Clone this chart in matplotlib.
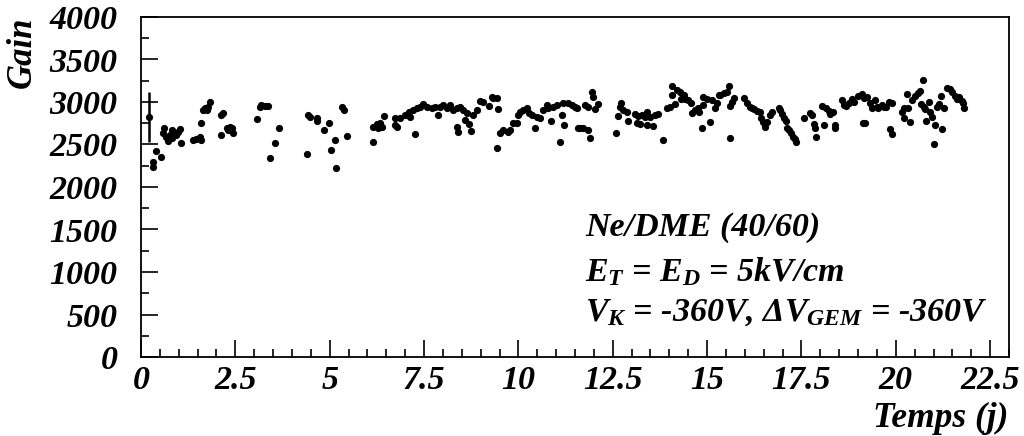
import matplotlib
matplotlib.use("Agg")
import matplotlib.pyplot as plt
from matplotlib.ticker import MultipleLocator
import numpy as np

# Time (days) and gain values
days = [0.22, 0.32, 0.32, 0.41, 0.52, 0.61, 0.59, 0.66, 0.72, 0.81, 0.83, 0.94, 0.99, 1.03, 1.07, 0.76,
        1.38, 1.47, 1.56, 1.59, 1.59, 1.65, 1.69, 1.78, 1.82, 1.74, 2.13, 2.18, 2.13, 2.28, 2.35, 2.42,
        2.44, 2.31, 3.08, 3.15, 3.19, 3.28, 3.37, 3.43, 3.55, 3.66,
        4.42, 4.48, 4.66, 4.66, 4.39, 4.86, 4.97, 5.04, 5.13, 5.17, 5.32, 5.37, 5.45,
        6.16, 6.16, 6.25, 6.34, 6.38, 6.45, 6.29, 6.73, 6.78, 6.73, 6.87, 7.00, 7.09, 7.13, 7.22,
        7.26, 7.31, 7.40, 7.48, 7.57,
        7.70, 7.79, 7.88, 7.92, 8.01, 8.10, 8.19, 8.28, 8.37, 8.45, 8.54, 8.59, 8.63, 8.37, 8.39,
        8.68, 8.74, 8.81, 8.90, 8.98, 9.06, 9.21, 9.29, 9.34, 9.43, 9.45,
        9.44, 9.50, 9.60, 9.73, 9.78, 9.87, 9.96,
        10.00, 10.04, 10.13, 10.22, 10.27, 10.35, 10.44, 10.49, 10.57, 10.66, 10.75, 10.79, 10.86,
        10.93, 11.02, 11.09, 11.15, 11.19, 11.22, 11.32, 11.41,
        11.50, 11.54, 11.59, 11.63, 11.72, 11.85, 11.90, 11.76, 11.84, 11.94, 11.99, 12.03, 12.10,
        12.58, 12.65, 12.69, 12.72, 12.78, 12.87, 12.91, 13.09, 13.13, 13.18, 13.22, 13.27, 13.35,
        13.40, 13.40, 13.49, 13.58, 13.62, 13.69, 13.82,
        13.95, 14.02, 14.08, 14.06, 14.15, 14.19, 14.28, 14.31, 14.40, 14.41, 14.50, 14.57, 14.59,
        14.68, 14.75, 14.78, 14.86, 14.90, 14.90, 15.01, 15.08, 15.12, 15.21, 15.25, 15.31,
        15.35, 15.44, 15.53, 15.57, 15.61, 15.66, 15.72, 15.61,
        15.99, 16.06, 16.13, 16.19, 16.25, 16.32, 16.39, 16.43, 16.48, 16.54, 16.60, 16.67, 16.72,
        16.90, 16.92, 16.98, 17.05, 17.10, 17.12, 17.16, 17.22, 17.27, 17.34, 17.36,
        17.56, 17.72, 17.78, 17.84, 17.87, 17.89, 18.04, 18.10, 18.16, 18.22, 18.26, 18.33, 18.40,
        18.40, 18.57, 18.62, 18.69, 18.75, 18.84, 18.88, 19.01, 19.10, 19.13, 19.16,
        19.23, 19.32, 19.37, 19.44, 19.50, 19.54, 19.63, 19.68, 19.74, 19.81, 19.90, 19.19,
        19.85, 19.91,
        20.16, 20.23, 20.32, 20.23, 20.38, 20.29, 20.43, 20.51, 20.59, 20.65, 20.71, 20.67, 20.74,
        20.78, 20.87, 20.80, 20.91, 20.96, 21.04, 21.00, 21.09, 21.15, 21.22, 21.20, 21.27,
        21.35, 21.44, 21.50, 21.56, 21.62, 21.68, 21.75, 21.82, 21.79]

gain = [2828, 2291, 2236, 2424, 2358, 2699, 2632, 2593, 2542, 2573, 2671, 2612, 2652, 2683, 2514, 2612,
        2553, 2561, 2593, 2553, 2757, 2906, 2926, 2946, 3004, 2906, 2847, 2867, 2612, 2699, 2710, 2691,
        2632, 2671, 2797, 2946, 2965, 2957, 2953, 2338, 2514, 2691,
        2848, 2828, 2808, 2777, 2393, 2671, 2750, 2440, 2558, 2224, 2942, 2906, 2601,
        2534, 2710, 2738, 2750, 2710, 2840, 2691, 2808, 2710, 2730, 2808, 2848, 2887, 2828, 2906,
        2620, 2926, 2946, 2973, 2946,
        2926, 2946, 2848, 2946, 2965, 2926, 2965, 2906, 2926, 2946, 2906, 2789, 2867, 2710, 2652,
        2738, 2659, 2848, 2906, 3012, 3004, 2957, 3063, 3043, 3043, 2914,
        2455, 2632, 2671, 2652, 2671, 2750, 2750,
        2848, 2887, 2906, 2926, 2867, 2848, 2699, 2828, 2808, 2906, 2965, 2926, 2777,
        2946, 2965, 2534, 2848, 2985, 2730, 2985, 2965,
        2946, 2926, 2691, 2699, 2691, 2671, 2573, 2965, 2946, 3122, 3063, 2918, 2973,
        2632, 2840, 2946, 2985, 2906, 2887, 2777, 2855, 2750, 2840, 2738, 2848, 2828,
        2887, 2730, 2828, 2722, 2848, 2855, 2554,
        2926, 2946, 3193, 3082, 2973, 3142, 3122, 3036, 3082, 3036, 3024, 2985, 2867,
        2906, 2926, 2887, 2699, 3063, 2965, 3036, 2761, 3024, 2926, 2985, 3082,
        3082, 3102, 3122, 3193, 2957, 3004, 3043, 2581,
        3051, 2985, 2946, 2926, 2918, 2895, 2879, 2808, 2769, 2710, 2769, 2848, 2887,
        2934, 2906, 2855, 2808, 2777, 2699, 2671, 2632, 2593, 2565, 2526,
        2816, 2867, 2848, 2738, 2699, 2593, 2957, 2730, 2926, 2895, 2855, 2879, 2730,
        2699, 3024, 2965, 2957, 2985, 3036, 3004, 3075, 3090, 2750, 3051,
        3063, 2985, 2926, 3024, 2946, 2926, 2965, 2946, 2946, 3004, 2985, 2750,
        2683, 2620,
        2887, 2926, 2934, 2808, 2761, 3090, 3024, 3075, 3102, 3130, 3259, 2973, 2946,
        2918, 3004, 2777, 2879, 2828, 2730, 2503, 2946, 2973, 2683, 3075, 2926,
        3169, 3153, 3122, 3075, 3036, 3063, 3012, 2926, 2985]

first_err = 295

FONT = "Liberation Serif"
plt.rcParams["mathtext.fontset"] = "custom"
plt.rcParams["mathtext.rm"] = FONT + ":bold:italic"
plt.rcParams["mathtext.it"] = FONT + ":bold:italic"
plt.rcParams["mathtext.bf"] = FONT + ":bold:italic"
plt.rcParams["mathtext.default"] = "it"

fig = plt.figure(figsize=(10.24, 4.36), dpi=100)
ax = fig.add_axes([141 / 1024, 1 - 357 / 436, (1009 - 141) / 1024, (357 - 17) / 436])

ax.plot(days, gain, "o", color="black", markersize=5.2, markeredgewidth=0)
ax.errorbar([days[0]], [gain[0]], yerr=[first_err], fmt="none", ecolor="black", elinewidth=1.8, capsize=0)

ax.set_xlim(0, 23.0)
ax.set_ylim(0, 4000)
ax.xaxis.set_minor_locator(MultipleLocator(0.5))
ax.yaxis.set_minor_locator(MultipleLocator(250))

ax.tick_params(which="both", direction="in", top=False, right=False, color="black", width=1.2)
ax.tick_params(which="major", length=12)
ax.tick_params(which="minor", length=6)
ax.tick_params(axis="y", which="major", pad=17)
ax.tick_params(axis="x", which="major", pad=6)

xt = np.arange(0, 22.6, 2.5)
yt = np.arange(0, 4001, 500)
ax.set_xticks(xt)
ax.set_xticklabels(["%g" % v for v in xt])
ax.set_yticks(yt)
ax.set_yticklabels(["%g" % v for v in yt])
for lab in ax.get_xticklabels() + ax.get_yticklabels():
    lab.set_fontfamily(FONT)
    lab.set_fontweight("bold")
    lab.set_fontstyle("italic")
    lab.set_fontsize(24.5)

for s in ax.spines.values():
    s.set_linewidth(1.3)

fig.text(22 / 1024, 1 - 17 / 436, "Gain", rotation=90, ha="center", va="top",
         fontfamily=FONT, fontweight="bold", fontstyle="italic", fontsize=25)
fig.text(1008 / 1024, 1 - 418 / 436, "Temps (j)", ha="right", va="center",
         fontfamily=FONT, fontweight="bold", fontstyle="italic", fontsize=25.5)

tkw = dict(fontfamily=FONT, fontweight="bold", fontstyle="italic", fontsize=24.5, ha="left", va="center")
fig.text(585 / 1024, 1 - 227 / 436, "Ne/DME (40/60)", **tkw)
fig.text(585 / 1024, 1 - 272 / 436, r"$E_{T}$ = $E_{D}$ = 5kV/cm", **tkw)
fig.text(585 / 1024, 1 - 312 / 436, r"$V_{K}$ = -360V, $\Delta V_{GEM}$ = -360V", **tkw)

fig.savefig("out.png", dpi=100)
